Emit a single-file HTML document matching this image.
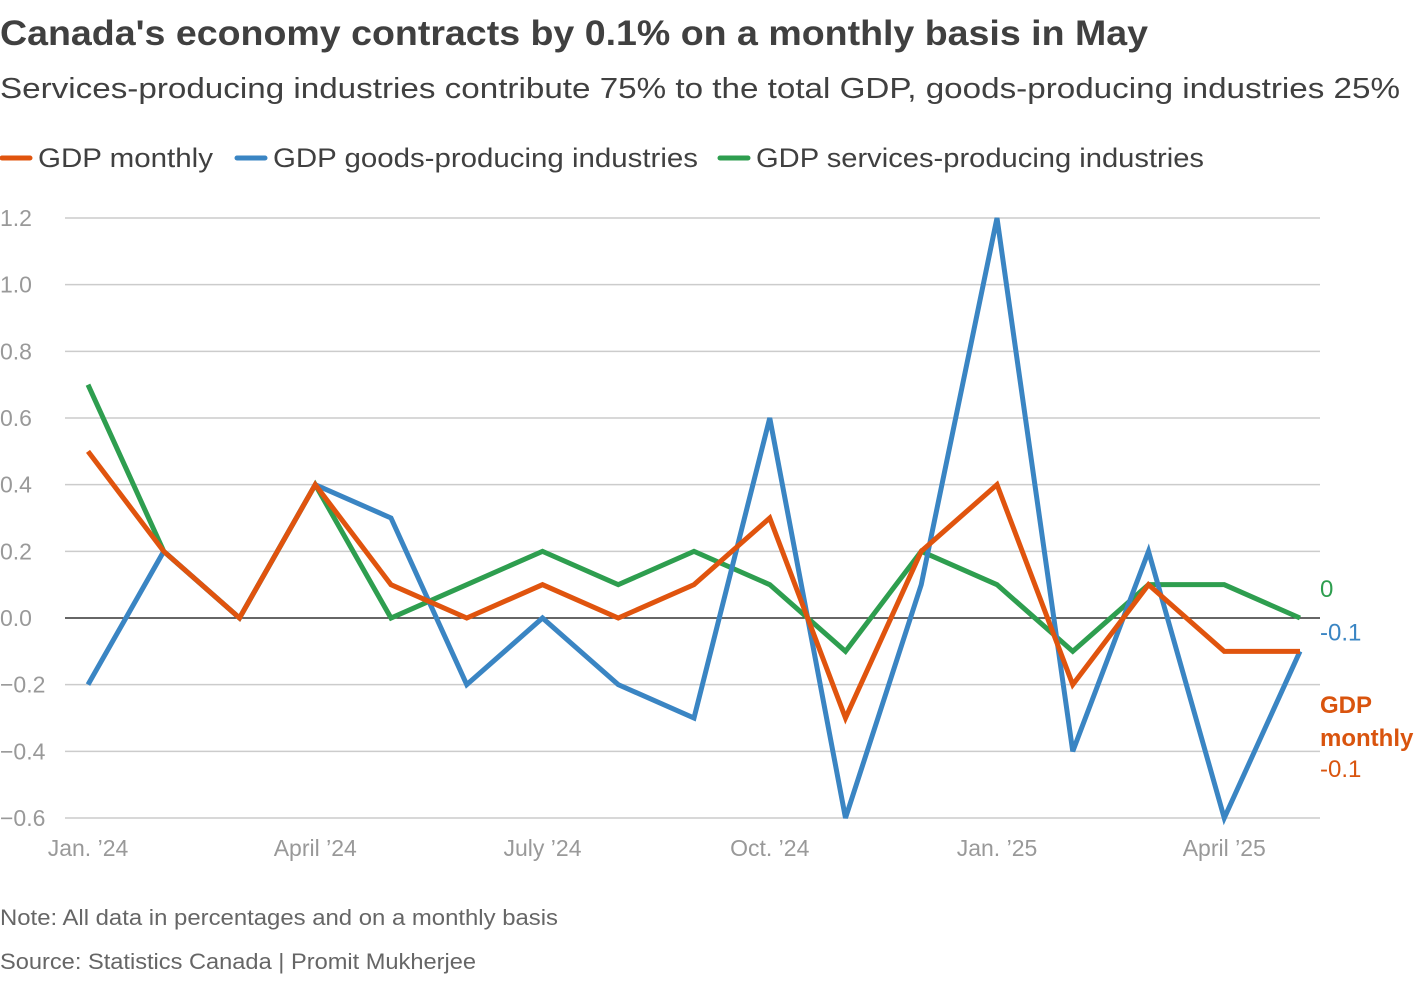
<!DOCTYPE html>
<html><head><meta charset="utf-8"><style>
body{margin:0;background:#fff;width:1420px;height:976px;overflow:hidden;font-family:"Liberation Sans",sans-serif;}
</style></head><body>
<svg width="1420" height="976" xmlns="http://www.w3.org/2000/svg" font-family="Liberation Sans, sans-serif">
<text x="0" y="45" font-size="35" font-weight="bold" fill="#404040" textLength="1148" lengthAdjust="spacingAndGlyphs">Canada's economy contracts by 0.1% on a monthly basis in May</text>
<text x="0" y="98" font-size="29" fill="#404040" textLength="1400" lengthAdjust="spacingAndGlyphs">Services-producing industries contribute 75% to the total GDP, goods-producing industries 25%</text>
<g id="legend"></g>
<g id="grid"></g>
<g id="yticks"></g>
<g id="xticks"></g>
<g id="lines"></g>
<g id="labels"></g>
<text x="0" y="925" font-size="22" fill="#666" textLength="558" lengthAdjust="spacingAndGlyphs">Note: All data in percentages and on a monthly basis</text>
<text x="0" y="969" font-size="22" fill="#666" textLength="476" lengthAdjust="spacingAndGlyphs">Source: Statistics Canada | Promit Mukherjee</text>
</svg>
<script>
const months = ["Jan. ’24","Feb","Mar","April ’24","May","Jun","July ’24","Aug","Sep","Oct. ’24","Nov","Dec","Jan. ’25","Feb","Mar","April ’25","May"];
const tickMonths = [0,3,6,9,12,15];
const gdpMonthly = [0.5,0.2,0,0.4,0.1,0,0.1,0,0.1,0.3,-0.3,0.2,0.4,-0.2,0.1,-0.1,-0.1];
const gdpGoods = [-0.2,0.2,0,0.4,0.3,-0.2,0,-0.2,-0.3,0.6,-0.6,0.1,1.2,-0.4,0.2,-0.6,-0.1];
const gdpServices = [0.7,0.2,0,0.4,0,0.1,0.2,0.1,0.2,0.1,-0.1,0.2,0.1,-0.1,0.1,0.1,0];
const yTicks = [1.2,1.0,0.8,0.6,0.4,0.2,0.0,-0.2,-0.4,-0.6];
const yTickLabels = ["1.2","1.0","0.8","0.6","0.4","0.2","0.0","\u22120.2","\u22120.4","\u22120.6"];
const NS="http://www.w3.org/2000/svg";
const x = i => 88 + i*(1300-88)/16;
const y = v => 618 - v*(400/1.2);
function mk(tag,attrs,parent,text){const e=document.createElementNS(NS,tag);for(const k in attrs)e.setAttribute(k,attrs[k]);if(text!==undefined)e.textContent=text;parent.appendChild(e);return e;}
const grid=document.getElementById('grid'),yt=document.getElementById('yticks'),xt=document.getElementById('xticks'),ln=document.getElementById('lines'),lb=document.getElementById('labels'),lg=document.getElementById('legend');
yTicks.forEach((v,i)=>{
  const g=mk('line',{x1:65,x2:1320,y1:y(v),y2:y(v),stroke:v===0?'#333':'#ccc','stroke-width':1.5},grid);
  
  
  const t=mk('text',{x:0,y:y(v)+8,'font-size':23,fill:'#999'},yt,yTickLabels[i]);
  
  
});
tickMonths.forEach(i=>{
  const t=mk('text',{x:x(i),y:856,'font-size':23,fill:'#999','text-anchor':'middle'},xt,months[i]);
  
  
});
const series=[[gdpServices,'#2e9e4f','line-services'],[gdpGoods,'#3a85c3','line-goods'],[gdpMonthly,'#e0540e','line-gdp-monthly']];
series.forEach(([d,c,n])=>{
  const p=mk('polyline',{points:d.map((v,i)=>x(i)+','+y(v)).join(' '),fill:'none',stroke:c,'stroke-width':5,'stroke-linejoin':'miter'},ln);
  
  
});
const last=gdpMonthly.length-1;
function fmt(v){return (Math.round(v*10)/10).toString();}
let t;
t=mk('text',{x:1320,y:y(gdpServices[last])-21,'font-size':24,fill:'#2e9e4f'},lb,fmt(gdpServices[last]));


t=mk('text',{x:1320,y:y(gdpGoods[last])-11,'font-size':24,fill:'#3a85c3'},lb,fmt(gdpGoods[last]));


t=mk('text',{x:1320,y:713,'font-size':24,'font-weight':'bold',fill:'#d9540e'},lb,'GDP');


t=mk('text',{x:1320,y:746,'font-size':24,'font-weight':'bold',fill:'#d9540e'},lb,'monthly');


t=mk('text',{x:1320,y:777,'font-size':24,fill:'#d9540e'},lb,fmt(gdpMonthly[last]));


const legendItems=[['GDP monthly','#e0540e',0,175],['GDP goods-producing industries','#3a85c3',235,425],['GDP services-producing industries','#2e9e4f',718,448]];
legendItems.forEach(([name,c,lx,w])=>{
  const g=mk('g',{},lg);
  
  
  mk('line',{x1:lx+2,x2:lx+30,y1:158,y2:158,stroke:c,'stroke-width':5,'stroke-linecap':'round'},g);
  mk('text',{x:lx+38,y:167,'font-size':27,fill:'#404040',textLength:w,lengthAdjust:'spacingAndGlyphs'},g,name);
});
</script>
</body></html>
